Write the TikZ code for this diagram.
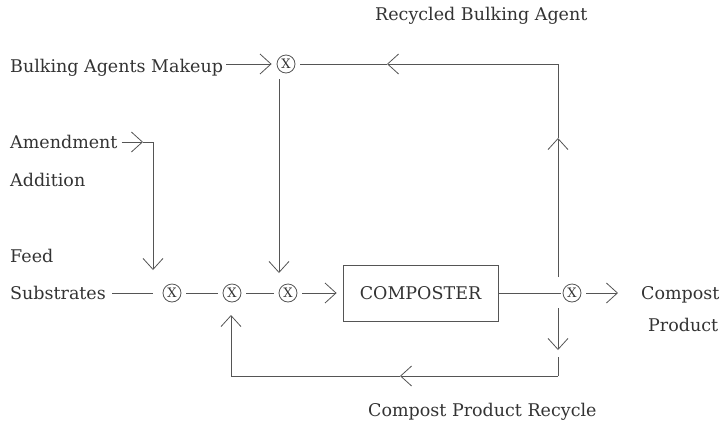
\documentclass[tikz,border=0pt]{standalone}
\usepackage{fontspec}
\setmainfont{DejaVu Serif}
\usetikzlibrary{arrows.meta}
\definecolor{ink}{HTML}{333333}
\definecolor{linec}{HTML}{555555}
\begin{document}
\begin{tikzpicture}[x=1pt,y=-1pt,
  lbl/.style={inner sep=0pt,anchor=base west,text=ink,font=\fontsize{17.5}{21}\selectfont},
  mixer/.style={circle,draw=linec,line width=0.8pt,minimum size=18pt,inner sep=0pt,text=ink,font=\fontsize{13}{14}\selectfont},
  unit/.style={draw=linec,line width=0.8pt,minimum width=155pt,minimum height=56pt,inner sep=0pt,text=ink,font=\fontsize{17.5}{21}\selectfont},
  flow/.style={draw=linec,line width=0.8pt},
  tip/.style={flow,-{Straight Barb[length=11pt,width=20pt,line width=0.8pt]}}]
\useasboundingbox (0,0) rectangle (723,424);

% labels
\node[lbl] (rba) at (375,20) {Recycled Bulking Agent};
\node[lbl] (bam) at (10,72) {Bulking Agents Makeup};
\node[lbl] (amd) at (10,148) {Amendment};
\node[lbl] (add) at (10,186) {Addition};
\node[lbl] (feed) at (10,262) {Feed};
\node[lbl] (subs) at (10,299) {Substrates};
\node[lbl] (cp) at (641,299) {Compost};
\node[lbl] (prod) at (648,331) {Product};
\node[lbl] (cpr) at (368,416) {Compost Product Recycle};

% mixers and composter
\node[mixer] (m1) at (172,293) {X};
\node[mixer] (m2) at (232,293) {X};
\node[mixer] (m3) at (288,293) {X};
\node[mixer] (m4) at (572,293) {X};
\node[mixer] (m5) at (286,64) {X};
\node[unit] (comp) at (420.5,293) {COMPOSTER};

% helper coordinates
\coordinate (c1) at (558,64);
\coordinate (tA) at (387,64);
\coordinate (v1) at (558,277);
\coordinate (tB) at (558,138);
\coordinate (v2) at (558,308);
\coordinate (tC) at (558,350);
\coordinate (v3) at (558,357);
\coordinate (c2) at (558,376);
\coordinate (tD) at (400,376);
\coordinate (c3) at (231,376);
\coordinate (tE) at (231,315);
\coordinate (d1) at (279,79);
\coordinate (d2) at (279,273);
\coordinate (a1) at (143,142);
\coordinate (a2) at (153,142);
\coordinate (a3) at (153,270);

% main line
\draw[flow] ([xshift=6pt,yshift=6pt]subs.base east) -- ([xshift=-10pt]m1.west);
\draw[flow] ([xshift=5pt]m1.east) -- ([xshift=-5pt]m2.west);
\draw[flow] ([xshift=5pt]m2.east) -- ([xshift=-5pt]m3.west);
\draw[tip] ([xshift=5pt]m3.east) -- ([xshift=-6pt]comp.west);
\draw[flow] (comp.east) -- ([xshift=-2pt]m4.west);
\draw[tip] ([xshift=5pt]m4.east) -- ([xshift=-23pt,yshift=6pt]cp.base west);

% bulking agent makeup and recycle
\draw[tip] ([xshift=3pt,yshift=8pt]bam.base east) -- ([xshift=-5pt]m5.west);
\draw[tip] (c1) -- (tA);
\draw[flow] (tA) -- ([xshift=5pt]m5.east);
\draw[tip] (v1) -- (tB);
\draw[flow] (tB) -- (c1);
\draw[tip] (d1) -- (d2);

% amendment
\draw[tip] ([xshift=4pt,yshift=6pt]amd.base east) -- (a1);
\draw[tip] (a1) -- (a2) -- (a3);

% product recycle
\draw[tip] (v2) -- (tC);
\draw[flow] (v3) -- (c2);
\draw[tip] (c2) -- (tD);
\draw[tip] (tD) -- (c3) -- (tE);
\end{tikzpicture}
\end{document}
